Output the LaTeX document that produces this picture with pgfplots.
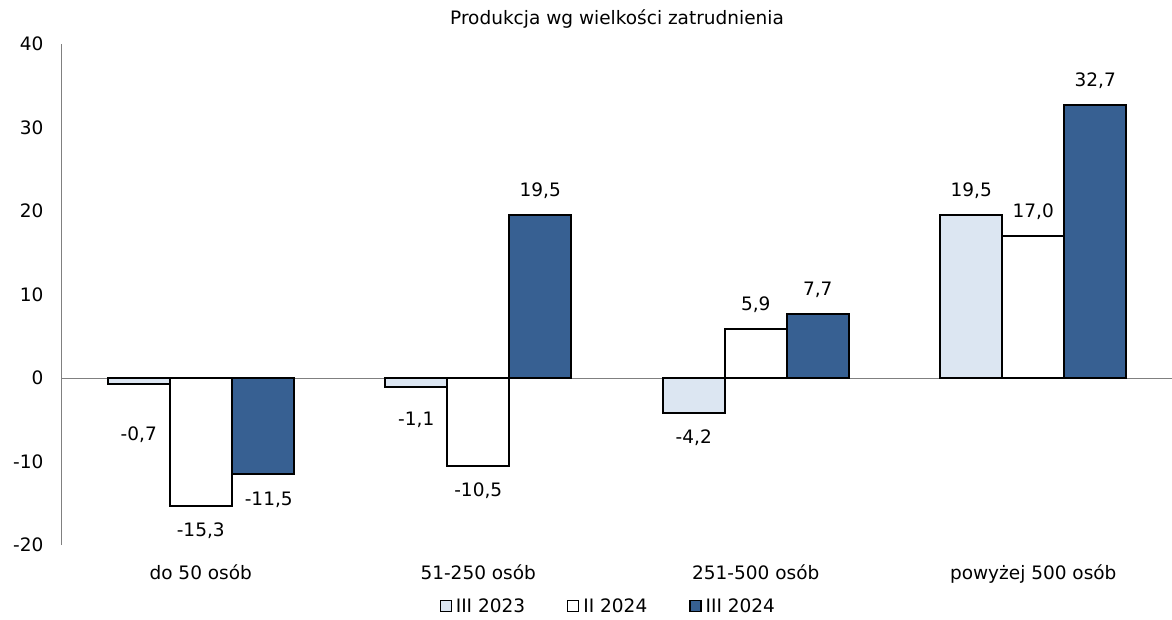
\documentclass[border=0pt]{standalone}
\usepackage{pgfplots}
\pgfplotsset{compat=1.18}
\usepackage{pgfplotstable}
\usepackage{fontspec}
\setmainfont{DejaVu Sans}
\definecolor{lightb}{RGB}{220,230,242}
\definecolor{darkb}{RGB}{55,96,146}
\definecolor{axgray}{RGB}{128,128,128}

% x: category index, y: value, dx/dy: label offset in pt
\pgfplotstableread{
x y dx dy
0 -0.7 0 -51
1 -1.1 0 -33
2 -4.2 0 -25
3 19.5 0 24
}\seriesA
\pgfplotstableread{
x y dx dy
0 -15.3 0 -25
1 -10.5 0 -25
2 5.9 0 24
3 17.0 0 24
}\seriesB
\pgfplotstableread{
x y dx dy
0 -11.5 6 -26
1 19.5 0 24
2 7.7 0 24
3 32.7 0 24
}\seriesC

\pgfplotsset{
  mybar/.style={draw=black, line width=1.9pt, fill=#1,
    nodes near coords={\pgfmathprintnumber[fixed,fixed zerofill,precision=1,use comma,assume math mode=true]{\pgfplotspointmeta}},
    visualization depends on={\thisrow{dx} \as \dx},
    visualization depends on={\thisrow{dy} \as \dy},
    every node near coord/.append style={anchor=center, xshift=\dx pt, yshift=\dy pt, text=black},
    legend image code/.code={\draw[fill=#1, draw=black, line width=1.3pt] (0pt,-5.5pt) rectangle (11pt,5.5pt);}
  }
}

\begin{document}
\begin{tikzpicture}
\path[use as bounding box] (-62pt,-74pt) rectangle (1110pt,545pt);
\begin{axis}[
  scale only axis, width=1110pt, height=501pt,
  font=\fontsize{18.5}{22}\selectfont,
  ymin=-20, ymax=40, ytick={-20,-10,0,10,20,30,40},
  yticklabels={-20,-10,0,10,20,30,40},
  yticklabel style={xshift=-15pt},
  xmin=-0.5, xmax=3.5, xtick={0,1,2,3},
  xticklabels={do 50 osób, 51-250 osób, 251-500 osób, powyżej 500 osób},
  xticklabel style={yshift=-16pt},
  major tick length=0pt,
  axis y line*=left, axis x line*=bottom,
  x axis line style={draw=none},
  y axis line style={draw=axgray, line width=1pt},
  extra y ticks={0}, extra y tick labels={},
  extra y tick style={grid=major, major grid style={draw=axgray, line width=1pt}},
  ybar=0pt, bar width=62pt,
  title={Produkcja wg wielkości zatrudnienia},
  title style={at={(0.5,1)}, anchor=center, yshift=19pt},
  legend style={at={(0.493,-0.122)}, anchor=center, draw=none, fill=none,
    legend columns=-1, font=\fontsize{18.5}{22}\selectfont,
    /tikz/every even column/.append style={column sep=38pt},
    /tikz/every odd column/.append style={column sep=0pt},
    nodes={inner xsep=4pt}},
  legend cell align=left,
]
\addplot[mybar=lightb] table[x=x,y=y] {\seriesA};
\addplot[mybar=white] table[x=x,y=y] {\seriesB};
\addplot[mybar=darkb] table[x=x,y=y] {\seriesC};
\legend{III 2023, II 2024, III 2024}
\end{axis}
\end{tikzpicture}
\end{document}
